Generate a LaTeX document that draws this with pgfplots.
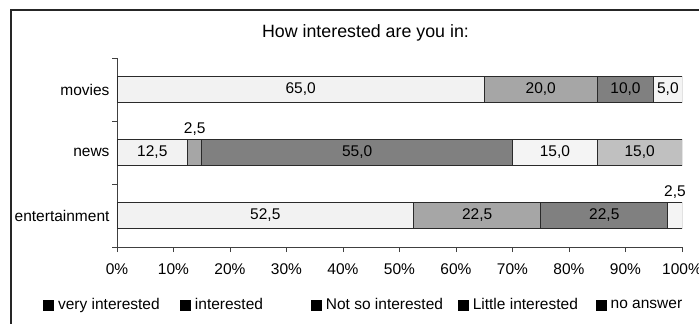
\documentclass[border=0pt]{standalone}
\usepackage{pgfplots}
\pgfplotsset{compat=1.18}
\usepackage{fontspec}
\setmainfont{Liberation Sans}
\definecolor{cVery}{HTML}{F2F2F2}
\definecolor{cInt}{HTML}{A6A6A6}
\definecolor{cNot}{HTML}{808080}
\definecolor{cLittle}{HTML}{F4F4F4}
\definecolor{cNo}{HTML}{C0C0C0}
\definecolor{cEdge}{HTML}{2A2A2A}
\newcommand{\lf}{\fontsize{15.5}{18}\selectfont}
\begin{document}
\begin{tikzpicture}
\useasboundingbox (-117pt,-77pt) rectangle (582pt,247pt);
\fill[white] (-117pt,-77pt) rectangle (582pt,247pt);
\draw[line width=1.6pt, black!85] (-106pt,-80pt) -- (-106pt,237pt) -- (590pt,237pt);
\begin{axis}[
  at={(0pt,0pt)}, anchor=south west,
  scale only axis, width=565pt, height=189pt,
  xbar stacked, bar width=26pt,
  xmin=0, xmax=100, ymin=-0.5, ymax=2.5,
  axis x line*=bottom, axis y line*=left,
  axis line style={black!75, line width=0.9pt},
  tick style={black!75, line width=0.9pt},
  tick align=outside,
  major tick length=5pt,
  xtick={0,10,...,100},
  xticklabels={0\%,10\%,20\%,30\%,40\%,50\%,60\%,70\%,80\%,90\%,100\%},
  xticklabel style={yshift=-8pt},
  ytick={-0.5,0.5,1.5,2.5}, yticklabels={},
  extra y ticks={0,1,2},
  extra y tick labels={entertainment,news,movies},
  extra y tick style={major tick length=0pt, yticklabel style={xshift=-4pt}},
  ticklabel style={font=\lf, black},
  legend columns=5,
  legend style={at={(axis description cs:-0.131,-0.307)}, anchor=west, draw=none, fill=none,
    font=\lf, inner sep=0pt, nodes={inner sep=0pt}, column sep=0pt},
  legend image code/.code={\fill[black] (0pt,-5pt) rectangle (10pt,5pt);},
  every axis plot/.append style={draw=cEdge, line width=0.9pt},
]
\addplot[fill=cVery] coordinates {(52.5,0) (12.5,1) (65,2)};
\addplot[fill=cInt] coordinates {(22.5,0) (2.5,1) (20,2)};
\addplot[fill=cNot] coordinates {(22.5,0) (55,1) (10,2)};
\addplot[fill=cLittle] coordinates {(2.5,0) (15,1) (5,2)};
\addplot[fill=cNo] coordinates {(0,0) (15,1) (0,2)};
\legend{\makebox[126pt][l]{\hspace*{4pt}very interested},
        \makebox[120pt][l]{\hspace*{4pt}interested},
        \makebox[136pt][l]{\hspace*{4pt}Not so interested},
        \makebox[127pt][l]{\hspace*{4pt}Little interested},
        \hspace*{4pt}no answer}
\end{axis}
\begin{axis}[
  at={(0pt,0pt)}, anchor=south west,
  scale only axis, width=565pt, height=189pt,
  xmin=0, xmax=100, ymin=-0.5, ymax=2.5,
  hide axis, clip=false,
  nodes near coords, point meta=explicit symbolic,
  nodes near coords align={anchor=center},
  every node near coord/.append style={font=\lf, black, inner sep=0pt},
]
\addplot[draw=none, mark=none] table[meta=label] {
x y label
32.5 2 65,0
75 2 20,0
90 2 10,0
97.5 2 5,0
6.25 1 12,5
42.5 1 55,0
77.5 1 15,0
92.5 1 15,0
26.25 0 52,5
63.75 0 22,5
86.25 0 22,5
};
\addplot[draw=none, mark=none, every node near coord/.append style={yshift=23pt}] table[meta=label] {
x y label
13.75 1 2,5
98.75 0 2,5
};
\end{axis}
\node[font=\fontsize{17.8}{20}\selectfont, inner sep=0pt] at (248.5pt,214pt) {How interested are you in:};
\end{tikzpicture}
\end{document}
